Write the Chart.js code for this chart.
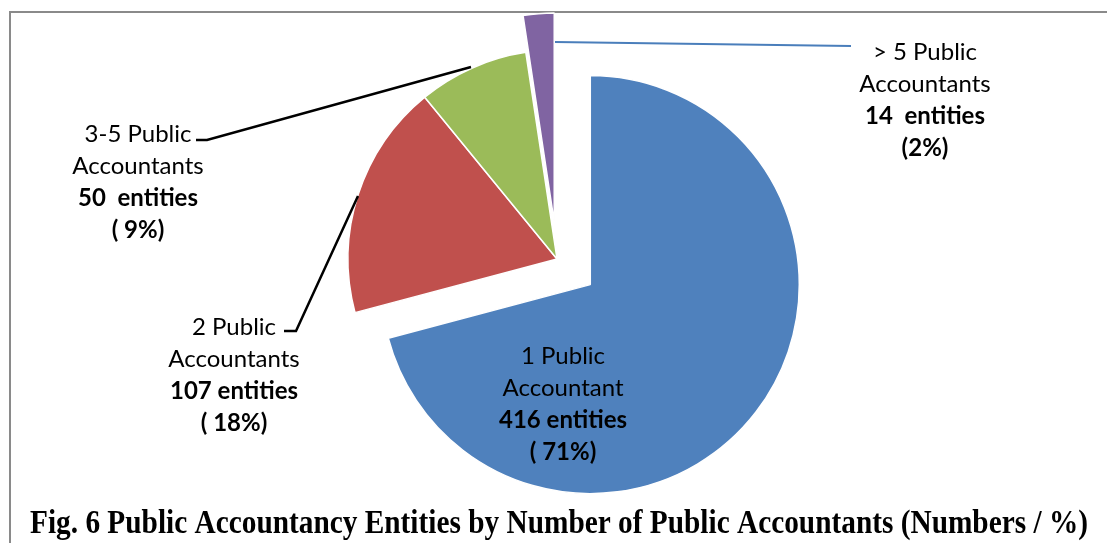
<!DOCTYPE html>
<html>
<head>
<meta charset="utf-8">
<script src="https://cdn.jsdelivr.net/npm/chart.js@4.4.0/dist/chart.umd.min.js"></script>
<style>
  html, body { margin: 0; padding: 0; background: #fff; }
  #wrap { position: relative; width: 1107px; height: 543px; }
</style>
</head>
<body>
<div id="wrap"><canvas id="entityChart" width="1107" height="543"></canvas></div>
<script>
// data
const categories = ["1 Public Accountant", "2 Public Accountants", "3-5 Public Accountants", "> 5 Public Accountants"];
const entities = [416, 107, 50, 14];
const nameLines = [["1 Public", "Accountant"], ["2 Public", "Accountants"], ["3-5 Public", "Accountants"], ["> 5 Public", "Accountants"]];
const entityText = ["416 entities", "107 entities", "50  entities", "14  entities"];
const percentText = ["( 71%)", "( 18%)", "( 9%)", "(2%)"];
const title = "Fig. 6 Public Accountancy Entities by Number of Public Accountants (Numbers / %)";

const sliceColours = ["#4f81bd", "#c0504d", "#9bbb59", "#8064a2"];
const explode = [42, 0, 0, 37]; // px each slice is pulled out along its middle angle

// where the labels sit (centre x, first line y) and their leader lines
const labelPos = [
  { x: 563, y: 356 },
  { x: 234, y: 327 },
  { x: 138, y: 134 },
  { x: 925, y: 52 },
];
const leaders = [
  null,
  { colour: "#000", width: 2.5, pts: [[358, 196], [296, 331], [284, 331]] },
  { colour: "#000", width: 2.5, pts: [[471, 67], [207, 140], [196, 140]] },
  { colour: "#4a7ebb", width: 2, pts: [[555, 42], [851, 46]] },
];
const lineGap = 32;
const labelFont = "Lato, 'Open Sans', sans-serif";

// excel style explode: move the slice, keep its radius
const explodePlugin = {
  id: "explodeSlices",
  afterUpdate(chart) {
    chart.getDatasetMeta(0).data.forEach((arc, i) => {
      const d = explode[i] || 0;
      if (!d) return;
      const half = (arc.startAngle + arc.endAngle) / 2;
      arc.x += Math.cos(half) * d;
      arc.y += Math.sin(half) * d;
    });
  },
};

const labelPlugin = {
  id: "pieLabels",
  beforeDraw(chart) {
    const ctx = chart.ctx;
    ctx.save();
    ctx.strokeStyle = "#8a8a8a";
    ctx.lineWidth = 2;
    ctx.beginPath();
    ctx.moveTo(10, 543);
    ctx.lineTo(10, 12);
    ctx.lineTo(1107, 12);
    ctx.stroke();
    ctx.restore();
  },
  afterDatasetsDraw(chart) {
    const ctx = chart.ctx;
    ctx.save();
    leaders.forEach((l) => {
      if (!l) return;
      ctx.strokeStyle = l.colour;
      ctx.lineWidth = l.width;
      ctx.beginPath();
      l.pts.forEach((p, i) => (i ? ctx.lineTo(p[0], p[1]) : ctx.moveTo(p[0], p[1])));
      ctx.stroke();
    });

    ctx.fillStyle = "#000";
    ctx.textAlign = "center";
    ctx.textBaseline = "middle";
    labelPos.forEach((pos, i) => {
      ctx.font = "24px " + labelFont;
      ctx.fillText(nameLines[i][0], pos.x, pos.y);
      ctx.fillText(nameLines[i][1], pos.x, pos.y + lineGap);
      ctx.font = "bold 24px " + labelFont;
      ctx.fillText(entityText[i], pos.x, pos.y + lineGap * 2);
      ctx.fillText(percentText[i], pos.x, pos.y + lineGap * 3);
    });

    // title, squeezed like the original
    ctx.font = "bold 34px 'Liberation Serif', 'Times New Roman', serif";
    ctx.textAlign = "left";
    ctx.textBaseline = "alphabetic";
    const w = ctx.measureText(title).width;
    ctx.translate(30, 533);
    ctx.scale(1058 / w, 1);
    ctx.fillText(title, 0, 0);
    ctx.restore();
  },
};

new Chart(document.getElementById("entityChart").getContext("2d"), {
  type: "pie",
  data: {
    labels: categories,
    datasets: [
      {
        data: entities,
        backgroundColor: sliceColours,
        borderColor: "#ffffff",
        borderWidth: 1.5,
      },
    ],
  },
  options: {
    responsive: false,
    animation: false,
    radius: 209,
    layout: { padding: { left: 350, right: 343, top: 30, bottom: 55 } },
    plugins: {
      legend: { display: false },
      tooltip: { enabled: false },
    },
  },
  plugins: [explodePlugin, labelPlugin],
});
</script>
</body>
</html>
